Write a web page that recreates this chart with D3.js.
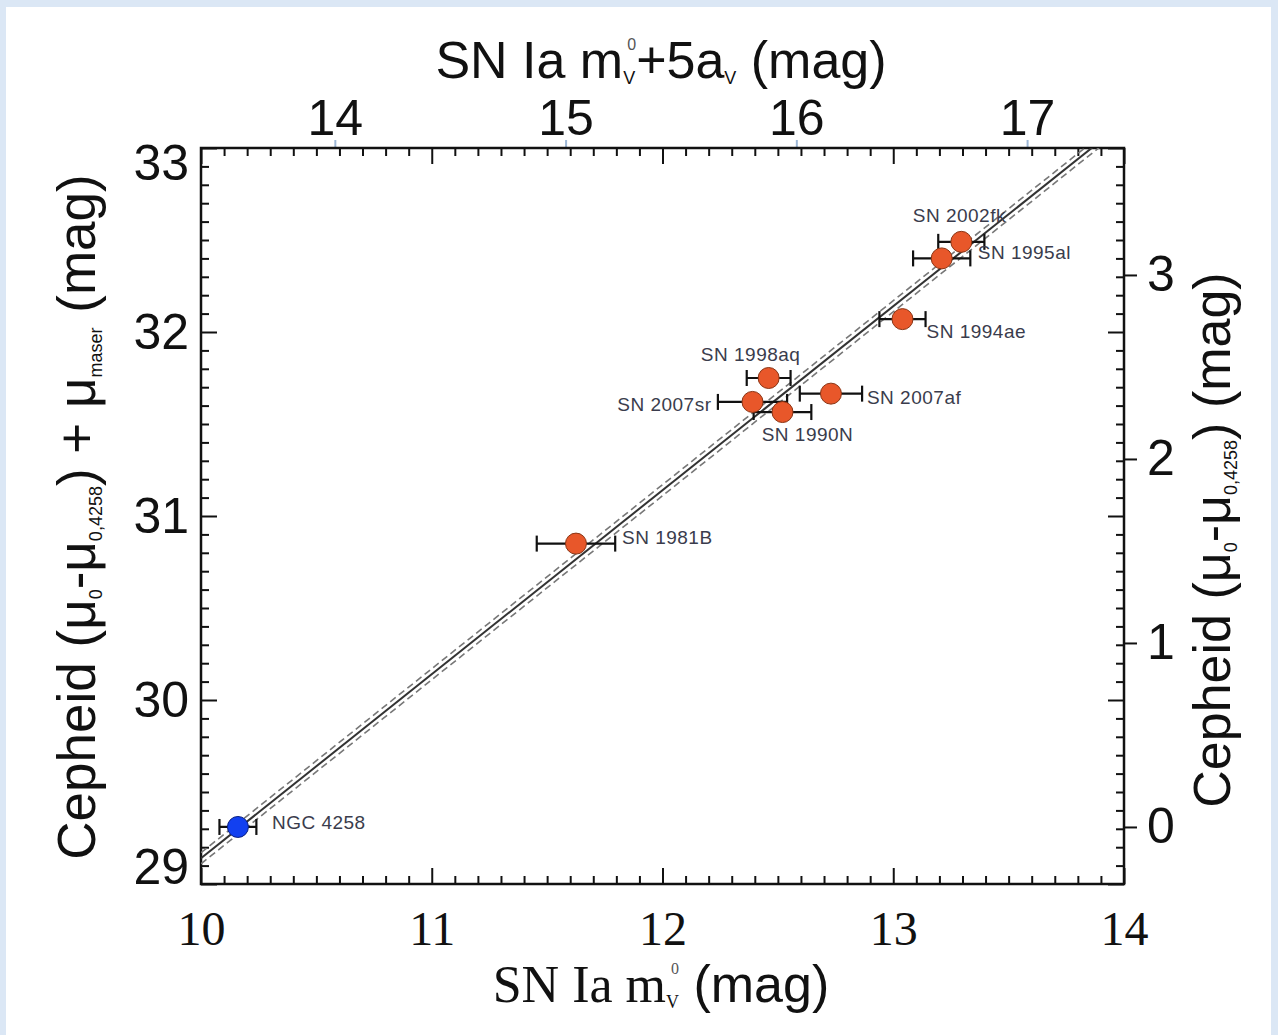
<!DOCTYPE html>
<html>
<head>
<meta charset="utf-8">
<script src="https://cdn.jsdelivr.net/npm/d3@7"></script>
<style>
  html, body { margin: 0; padding: 0; background: #dbe7f5; }
  svg { display: block; }
  .sans { font-family: "Liberation Sans", Arial, sans-serif; }
  .serif { font-family: "Liberation Serif", "Times New Roman", serif; }
</style>
</head>
<body>
<div id="chart"></div>
<script>
// SN Ia apparent magnitudes vs Cepheid distances
const names = ["NGC 4258", "SN 1981B", "SN 2007sr", "SN 1998aq", "SN 1990N", "SN 2007af", "SN 1994ae", "SN 1995al", "SN 2002fk"];
const mV0 = [10.16, 11.625, 12.39, 12.46, 12.52, 12.73, 13.04, 13.21, 13.295];
const muCepheid = [29.31, 30.85, 31.62, 31.75, 31.565, 31.665, 32.07, 32.40, 32.49];
const mV0Err = [0.08, 0.17, 0.15, 0.095, 0.125, 0.135, 0.10, 0.124, 0.10];

// fit: mu = mV0 + intercept, with +-band
const fitSlope = 1.0;
const fitIntercept = 19.14;
const fitBand = 0.03;

const xTicks = [10, 11, 12, 13, 14];
const yTicks = [29, 30, 31, 32, 33];
const topTicks = [14, 15, 16, 17];
const rightTicks = [0, 1, 2, 3];
const topOffset = 3.42;     // 5 a_V
const rightOffset = 29.31;  // mu_0,4258

// label placement (pixels relative to the point)
const labelPlace = [
  ["start", 34, -5], ["start", 46, -6], ["end", -41, 2], ["middle", -18, -24], ["middle", 25, 22],
  ["start", 36, 4], ["start", 24, 12], ["start", 36, -6], ["middle", -2, -26]
];

const W = 1278, H = 1035;
const margin = { left: 201, right: 1124, top: 148, bottom: 884 };

const svg = d3.select("#chart").append("svg")
    .attr("width", W)
    .attr("height", H);

svg.append("rect")
    .attr("x", 6).attr("y", 7)
    .attr("width", 1265).attr("height", 1028)
    .attr("fill", "#ffffff");

const x = d3.scaleLinear().domain([10, 14]).range([margin.left, margin.right]);
const y = d3.scaleLinear().domain([29, 33]).range([margin.bottom, margin.top]);
const xTop = d3.scaleLinear().domain([10 + topOffset, 14 + topOffset]).range([margin.left, margin.right]);
const yRight = d3.scaleLinear().domain([29 - rightOffset, 33 - rightOffset]).range([margin.bottom, margin.top]);

const xMinor = d3.range(0, 41).filter(i => i % 10 != 0).map(i => 10 + i / 10);
const yMinor = d3.range(0, 41).filter(i => i % 10 != 0).map(i => 29 + i / 10);

function styleAxis(g) {
    g.select(".domain").remove();
    g.selectAll(".tick line").attr("stroke", "#111").attr("stroke-width", 2);
}

// bottom
svg.append("g").attr("transform", `translate(0,${margin.bottom})`)
    .call(d3.axisBottom(x).tickValues(xMinor).tickSizeInner(-8).tickSizeOuter(0).tickFormat(""))
    .call(styleAxis);
svg.append("g").attr("transform", `translate(0,${margin.bottom})`)
    .call(d3.axisBottom(x).tickValues(xTicks).tickSizeInner(-16).tickSizeOuter(0).tickPadding(27).tickFormat(d3.format("d")))
    .call(styleAxis)
    .call(g => g.selectAll("text").attr("class", "serif").attr("font-size", 48).attr("fill", "#111"));

// top (mirror of bottom ticks, inward)
svg.append("g").attr("transform", `translate(0,${margin.top})`)
    .call(d3.axisTop(x).tickValues(xMinor).tickSizeInner(-8).tickSizeOuter(0).tickFormat(""))
    .call(styleAxis);
svg.append("g").attr("transform", `translate(0,${margin.top})`)
    .call(d3.axisTop(x).tickValues(xTicks).tickSizeInner(-16).tickSizeOuter(0).tickFormat(""))
    .call(styleAxis);
svg.append("g").attr("transform", `translate(0,${margin.top})`)
    .call(d3.axisTop(xTop).tickValues(topTicks).tickSizeInner(8).tickSizeOuter(0).tickPadding(5).tickFormat(d3.format("d")))
    .call(g => g.select(".domain").remove())
    .call(g => g.selectAll(".tick line").attr("stroke", "#9db7d6").attr("stroke-width", 2))
    .call(g => g.selectAll("text").attr("class", "sans").attr("font-size", 50).attr("fill", "#111"));

// left
svg.append("g").attr("transform", `translate(${margin.left},0)`)
    .call(d3.axisLeft(y).tickValues(yMinor).tickSizeInner(-8).tickSizeOuter(0).tickFormat(""))
    .call(styleAxis);
svg.append("g").attr("transform", `translate(${margin.left},0)`)
    .call(d3.axisLeft(y).tickValues(yTicks).tickSizeInner(-16).tickSizeOuter(0).tickPadding(12).tickFormat(d3.format("d")))
    .call(styleAxis)
    .call(g => g.selectAll("text").attr("class", "sans").attr("font-size", 50).attr("fill", "#111")
        .attr("dy", d => d == 33 ? "0.62em" : d == 29 ? "-0.02em" : "0.32em"));

// right (mirror of left ticks, inward, plus own labels outward)
svg.append("g").attr("transform", `translate(${margin.right},0)`)
    .call(d3.axisRight(y).tickValues(yMinor).tickSizeInner(-8).tickSizeOuter(0).tickFormat(""))
    .call(styleAxis);
svg.append("g").attr("transform", `translate(${margin.right},0)`)
    .call(d3.axisRight(y).tickValues(yTicks).tickSizeInner(-16).tickSizeOuter(0).tickFormat(""))
    .call(styleAxis);
svg.append("g").attr("transform", `translate(${margin.right},0)`)
    .call(d3.axisRight(yRight).tickValues(rightTicks).tickSizeInner(13).tickSizeOuter(0).tickPadding(10).tickFormat(d3.format("d")))
    .call(styleAxis)
    .call(g => g.selectAll("text").attr("class", "sans").attr("font-size", 50).attr("fill", "#111"));

// frame
svg.append("rect")
    .attr("x", margin.left).attr("y", margin.top)
    .attr("width", margin.right - margin.left).attr("height", margin.bottom - margin.top)
    .attr("fill", "none").attr("stroke", "#111").attr("stroke-width", 2.5);

// fit lines, clipped to the frame
svg.append("clipPath").attr("id", "plotclip").append("rect")
    .attr("x", margin.left).attr("y", margin.top)
    .attr("width", margin.right - margin.left).attr("height", margin.bottom - margin.top);

const plot = svg.append("g").attr("clip-path", "url(#plotclip)");
const fitX = [10, 14];
const fitLine = d3.line().x(d => x(d[0])).y(d => y(d[1]));
[-fitBand, fitBand].forEach(off => {
    plot.append("path")
        .datum(fitX.map(v => [v, fitSlope * v + fitIntercept + off]))
        .attr("d", fitLine)
        .attr("fill", "none").attr("stroke", "#777").attr("stroke-width", 1.6)
        .attr("stroke-dasharray", "7,4");
});
plot.append("path")
    .datum(fitX.map(v => [v, fitSlope * v + fitIntercept]))
    .attr("d", fitLine)
    .attr("fill", "none").attr("stroke", "#333").attr("stroke-width", 2);

// error bars
const pts = names.map((n, i) => ({ name: n, x: mV0[i], y: muCepheid[i], e: mV0Err[i], place: labelPlace[i] }));
const eb = svg.append("g").attr("stroke", "#111").attr("stroke-width", 2.2);
pts.forEach(d => {
    eb.append("line").attr("x1", x(d.x - d.e)).attr("x2", x(d.x + d.e)).attr("y1", y(d.y)).attr("y2", y(d.y));
    [d.x - d.e, d.x + d.e].forEach(v => {
        eb.append("line").attr("x1", x(v)).attr("x2", x(v)).attr("y1", y(d.y) - 8).attr("y2", y(d.y) + 8);
    });
});

// points
svg.append("g").selectAll("circle")
    .data(pts)
    .enter().append("circle")
    .attr("cx", d => x(d.x))
    .attr("cy", d => y(d.y))
    .attr("r", 10.5)
    .attr("fill", d => d.name == "NGC 4258" ? "#1240f0" : "#e8572a")
    .attr("stroke", d => d.name == "NGC 4258" ? "#0a1f80" : "#8a3414")
    .attr("stroke-width", 1);

// point labels
svg.append("g").selectAll("text")
    .data(pts)
    .enter().append("text")
    .attr("class", "sans")
    .attr("font-size", 19)
    .attr("letter-spacing", 0.5)
    .attr("fill", "#3a3c4c")
    .attr("text-anchor", d => d.place[0])
    .attr("x", d => x(d.x) + d.place[1])
    .attr("y", d => y(d.y) + d.place[2])
    .attr("dy", "0.35em")
    .text(d => d.name);

// titles
const topTitle = svg.append("text").attr("class", "sans").attr("font-size", 52).attr("fill", "#111")
    .attr("x", 661).attr("y", 78).attr("text-anchor", "middle");
topTitle.append("tspan").text("SN Ia m");
topTitle.append("tspan").attr("font-size", 18).attr("dy", 6).text("V");
topTitle.append("tspan").attr("font-size", 16).attr("dx", -8).attr("dy", -34).attr("fill", "#555").text("0");
topTitle.append("tspan").attr("dy", 28).text("+5a");
topTitle.append("tspan").attr("font-size", 18).attr("dy", 6).text("V");
topTitle.append("tspan").attr("dy", -6).text(" (mag)");

const botTitle = svg.append("text").attr("font-size", 52).attr("fill", "#111")
    .attr("x", 661).attr("y", 1002).attr("text-anchor", "middle");
botTitle.append("tspan").attr("class", "serif").text("SN Ia m");
botTitle.append("tspan").attr("class", "serif").attr("font-size", 18).attr("dy", 6).text("V");
botTitle.append("tspan").attr("class", "serif").attr("font-size", 16).attr("dx", -8).attr("dy", -34).attr("fill", "#555").text("0");
botTitle.append("tspan").attr("class", "sans").attr("dy", 28).text(" (mag)");

function cepheidTitle(t, withMaser) {
    t.append("tspan").text("Cepheid (μ");
    t.append("tspan").attr("font-size", 18).attr("dy", 7).text("0");
    t.append("tspan").attr("dy", -7).text("-μ");
    t.append("tspan").attr("font-size", 18).attr("dy", 7).text("0,4258");
    t.append("tspan").attr("dy", -7).text(withMaser ? ") + μ" : ")");
    if (withMaser) {
        t.append("tspan").attr("font-size", 18).attr("dy", 7).text("maser");
        t.append("tspan").attr("dy", -7).text(" (mag)");
    } else {
        t.append("tspan").text(" (mag)");
    }
}

const leftTitle = svg.append("text").attr("class", "sans").attr("font-size", 53).attr("fill", "#111")
    .attr("text-anchor", "middle")
    .attr("transform", "translate(95,517) rotate(-90)");
cepheidTitle(leftTitle, true);

const rightTitle = svg.append("text").attr("class", "sans").attr("font-size", 52).attr("fill", "#111")
    .attr("text-anchor", "middle")
    .attr("transform", "translate(1230,540) rotate(-90)");
cepheidTitle(rightTitle, false);
</script>
</body>
</html>
